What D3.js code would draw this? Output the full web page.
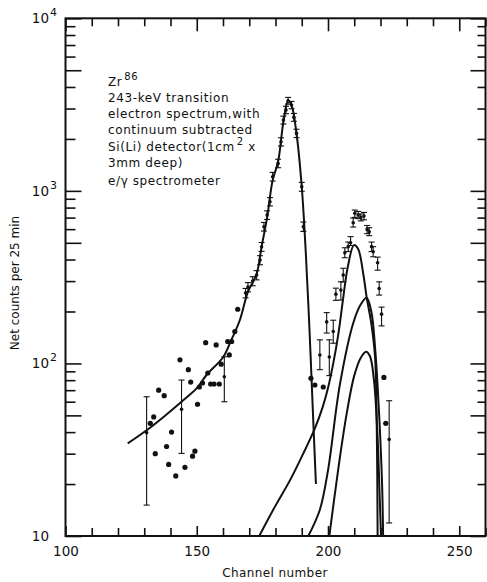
<!DOCTYPE html>
<html>
<head>
<meta charset="utf-8">
<script src="https://cdnjs.cloudflare.com/ajax/libs/d3/7.8.5/d3.min.js"></script>
<style>
  body { margin: 0; background: #fff; }
  text { font-family: "DejaVu Sans", Arial, sans-serif; fill: #111; }
  .tk line { stroke: #111; stroke-width: 1.6; }
  .tk path { display: none; }
</style>
</head>
<body>
<script>
// ---------- data ----------
// scattered points without error bars
var dotChan  = [165.6,164.5,161.8,163.3,162.4,153.4,157.4,143.6,159.3,146.8,154.2,147.7,152.2,151.0,155.3,156.6,158.6,
                135.5,137.6,150.3,133.6,132.3,140.4,138.5,134.2,149.3,148.4,139.3,145.5,142.0,
                193.5,195.0,198.2,221.3,222.0];
var dotCount = [206,153,134,134,112,132,128,105,99,92,88,78,77,73,76,76,76,
                70,65,58,49,45,40,33,30,31,29,26,25,22.3,
                82,75,73,83,45];

// points with error bars
var barChan  = [130.9,144.2,160.5,
                168.6,169.5,171.3,172.8,174.1,174.7,175.6,176.8,177.9,178.9,181.0,182.1,183.0,184.0,184.8,186.1,187.0,188.0,190.0,190.6,
                196.9,199.5,200.5,202.0,203.0,204.9,205.8,206.4,207.7,208.6,209.6,210.2,211.5,212.5,213.7,214.9,215.7,216.6,217.2,218.9,219.5,220.4,223.3];
var barCount = [39.7,54.2,83.7,
                256,277,300,325,397,474,620,724,865,1208,1442,1923,2571,2941,3327,3140,2667,2153,1057,620,
                112,174,109,153,252,266,325,438,475,500,653,741,724,702,714,598,580,475,444,383,272,193,36.3];
var barLow   = [15.1,30.1,60,
                240,260,282,305,373,446,585,683,818,1140,1362,1820,2440,2800,3180,2990,2530,2035,995,582,
                92,150,85,131,232,233,297,410,445,482,617,702,690,670,680,565,550,445,415,347,249,165,11.9];
var barHigh  = [64.1,80.1,109.3,
                272,294,318,345,421,502,656,766,914,1280,1525,2030,2710,3090,3480,3300,2810,2275,1120,660,
                137,197,137,178,273,297,356,468,505,543,696,774,760,735,750,630,612,505,475,413,297,212,60.8];

// fitted curves, [channel, counts]
var mainCurve = [[123.7,34.4],[130.9,41],[137,48.5],[144.2,60],[150,72],[153.8,86],[160.1,109],[163,135],[166.4,178],
                 [169.5,260],[172.8,330],[174.7,474],[176.8,700],[178.9,1150],[181,1480],[183,2500],[184.8,3330],
                 [186.1,3140],[188,2150],[190,1057],[191.5,450],[193,150],[194.3,50],[195.4,20]];
var peakA = [[173.8,10],[180,15],[185.5,21],[191,31],[195,42],[198,56],[200,72],[202,100],[204,150],
             [205.8,240],[207.5,360],[209.9,485],[211.5,460],[213.4,333],[214.7,243],[216.5,170],[217.9,110],[218.6,40],[218.9,10]];
var peakB = [[192.5,10],[196.9,14.2],[200,24],[204.5,75],[209.6,171],[212.5,220],[214.7,240],[216.5,200],
             [218,120],[219.5,50],[220.6,20],[221,10]];
var peakC = [[200.5,10],[204,25],[207,50],[210,85],[212.5,108],[214.5,117],[216,110],[217.5,80],[218.8,40],
             [219.8,15],[220.2,10]];

var xMinor = d3.range(100, 261, 10);
var xMajor = [100, 150, 200, 250];
var yDecades = [10, 100, 1000, 10000];
var yExp = ["", "2", "3", "4"];

// ---------- layout ----------
var width = 487, height = 582;
var x = d3.scaleLinear().domain([100, 260]).range([65.5, 485.5]);
var y = d3.scaleLog().domain([10, 10000]).range([536, 18.3]);

var svg = d3.select("body").append("svg")
    .attr("width", width).attr("height", height);

svg.append("clipPath").attr("id", "plot")
  .append("rect")
    .attr("x", x(100)).attr("y", y(10000))
    .attr("width", x(260) - x(100)).attr("height", y(10) - y(10000));

// minor log ticks
var yAll = [], yLong = [];
yDecades.slice(0, 3).forEach(function(d) {
  for (var k = 1; k < 10; k++) {
    if (k == 1 || k == 5) yLong.push(d * k); else yAll.push(d * k);
  }
});
yLong.push(10000);

// bottom / top
svg.append("g").attr("class", "tk").attr("transform", "translate(0," + y(10) + ")")
  .call(d3.axisBottom(x).tickValues(xMinor.filter(function(d){ return xMajor.indexOf(d) < 0; }))
        .tickSize(-8).tickFormat(""));
svg.append("g").attr("class", "tk").attr("transform", "translate(0," + y(10) + ")")
  .call(d3.axisBottom(x).tickValues(xMajor).tickSize(-10).tickPadding(10).tickFormat(d3.format("d")))
  .selectAll("text").attr("font-size", 13.5).attr("fill", "#111");
svg.append("g").attr("class", "tk").attr("transform", "translate(0," + y(10000) + ")")
  .call(d3.axisTop(x).tickValues(xMinor.filter(function(d){ return xMajor.indexOf(d) < 0; }))
        .tickSize(-8).tickFormat(""));
svg.append("g").attr("class", "tk").attr("transform", "translate(0," + y(10000) + ")")
  .call(d3.axisTop(x).tickValues(xMajor).tickSize(-13).tickFormat(""));

// left / right
svg.append("g").attr("class", "tk").attr("transform", "translate(" + x(100) + ",0)")
  .call(d3.axisLeft(y).tickValues(yAll).tickSize(-10).tickFormat(""));
svg.append("g").attr("class", "tk").attr("transform", "translate(" + x(100) + ",0)")
  .call(d3.axisLeft(y).tickValues(yLong).tickSize(-16).tickFormat(""));
svg.append("g").attr("class", "tk").attr("transform", "translate(" + x(260) + ",0)")
  .call(d3.axisRight(y).tickValues(yAll).tickSize(-8).tickFormat(""));
svg.append("g").attr("class", "tk").attr("transform", "translate(" + x(260) + ",0)")
  .call(d3.axisRight(y).tickValues(yLong).tickSize(-15).tickFormat(""));

// decade labels with superscripts
var lab = svg.append("g");
yDecades.forEach(function(d, i) {
  lab.append("text").attr("x", 49).attr("y", y(d)).attr("dy", "0.36em")
    .attr("text-anchor", "end").attr("font-size", 13.5).text("10");
  if (yExp[i]) {
    lab.append("text").attr("x", 50).attr("y", y(d) - 2)
      .attr("font-size", 11).text(yExp[i]);
  }
});

// frame
svg.append("rect")
  .attr("x", x(100)).attr("y", y(10000))
  .attr("width", x(260) - x(100)).attr("height", y(10) - y(10000))
  .attr("fill", "none").attr("stroke", "#111").attr("stroke-width", 2);

// axis titles
svg.append("text").attr("x", 275).attr("y", 577).attr("text-anchor", "middle")
  .attr("font-size", 12).attr("letter-spacing", 0.4).text("Channel number");
svg.append("text").attr("transform", "translate(19,283) rotate(-90)")
  .attr("text-anchor", "middle").attr("font-size", 12)
  .text("Net counts per 25 min");

// annotation
var note = svg.append("text").attr("font-size", 12).attr("letter-spacing", 0.6);
var lines = [
  [["Zr", 0], ["86", 1]],
  [["243-keV transition", 0]],
  [["electron spectrum,with", 0]],
  [["continuum subtracted", 0]],
  [["Si(Li) detector(1cm", 0], ["2", 1], [" x", 0]],
  [["3mm deep)", 0]],
  [["e/\u03b3 spectrometer", 0]]
];
var base = [86, 102, 118, 134, 151, 167, 185];
lines.forEach(function(ln, i) {
  var t = note.append("tspan").attr("x", 108).attr("y", base[i]);
  ln.forEach(function(p, j) {
    var s = (j == 0) ? t : note.append("tspan");
    if (j > 0) s.attr("dy", p[1] ? -6 : 6);
    if (p[1]) s.attr("font-size", 10).attr("dx", 2);
    s.text(p[0]);
  });
});

// curves
var line = d3.line()
  .x(function(d){ return x(d[0]); })
  .y(function(d){ return y(d[1]); })
  .curve(d3.curveCatmullRom.alpha(0.5));
var cg = svg.append("g").attr("clip-path", "url(#plot)");
[mainCurve, peakA, peakB, peakC].forEach(function(c) {
  cg.append("path").datum(c).attr("d", line)
    .attr("fill", "none").attr("stroke", "#111").attr("stroke-width", 2);
});

// error bars
var bars = barChan.map(function(c, i){ return {c: c, v: barCount[i], lo: barLow[i], hi: barHigh[i]}; });
var eg = svg.append("g").attr("stroke", "#111").attr("stroke-width", 1.1);
bars.forEach(function(d) {
  eg.append("line").attr("x1", x(d.c)).attr("x2", x(d.c)).attr("y1", y(d.lo)).attr("y2", y(d.hi));
  [d.lo, d.hi].forEach(function(v) {
    eg.append("line").attr("x1", x(d.c) - 3).attr("x2", x(d.c) + 3).attr("y1", y(v)).attr("y2", y(v));
  });
});
svg.selectAll(".bp").data(bars).enter().append("circle").attr("class", "bp")
  .attr("cx", function(d){ return x(d.c); }).attr("cy", function(d){ return y(d.v); })
  .attr("r", 1.8).attr("fill", "#111");

// plain dots
svg.selectAll(".dp").data(dotChan).enter().append("circle").attr("class", "dp")
  .attr("cx", function(d){ return x(d); })
  .attr("cy", function(d, i){ return y(dotCount[i]); })
  .attr("r", 2.6).attr("fill", "#111");
</script>
</body>
</html>
